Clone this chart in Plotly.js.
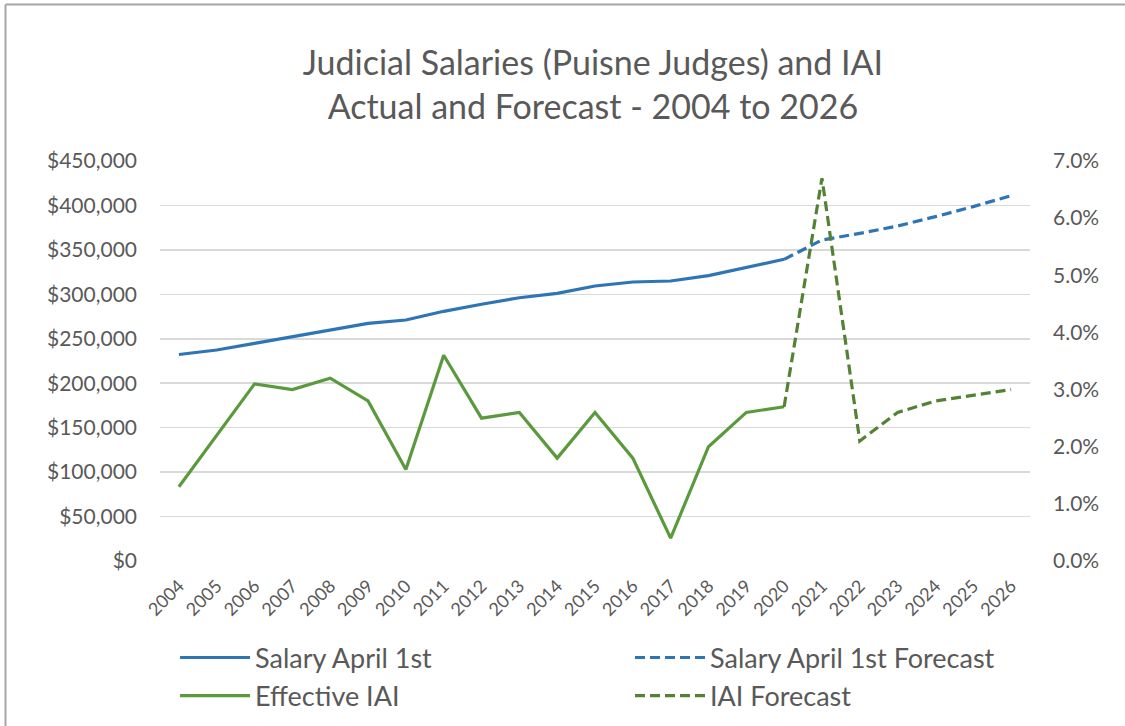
<!DOCTYPE html>
<html>
<head>
<meta charset="utf-8">
<script src="https://cdn.plot.ly/plotly-3.0.1.min.js"></script>
<style>html,body{margin:0;padding:0;background:#fff;}#chart{width:1125px;height:726px;}</style>
</head>
<body>
<div id="chart"></div>
<script>
const years = ["2004","2005","2006","2007","2008","2009","2010","2011","2012","2013","2014","2015","2016","2017","2018","2019","2020","2021","2022","2023","2024","2025","2026"];
const salaryYears = years.slice(0, 17);
const salaryActual = [232300,237400,244900,252400,260600,267400,271100,280900,288800,296200,301100,309400,313900,315000,321000,330000,339400];
const forecastYears = years.slice(16);
const salaryForecast = [339400,361100,368600,376900,387400,398700,411000];
const iaiActual = [1.3,2.2,3.1,3.0,3.2,2.8,1.6,3.6,2.5,2.6,1.8,2.6,1.8,0.4,2.0,2.6,2.7];
const iaiForecast = [2.7,6.7,2.1,2.6,2.8,2.9,3.0];
const salaryTicks = [0,50000,100000,150000,200000,250000,300000,350000,400000,450000];
const salaryTickText = ["$0","$50,000","$100,000","$150,000","$200,000","$250,000","$300,000","$350,000","$400,000","$450,000"];
const pctTicks = [0,1,2,3,4,5,6,7];
const pctTickText = ["0.0%","1.0%","2.0%","3.0%","4.0%","5.0%","6.0%","7.0%"];

const FONT = "Lato, 'Open Sans', sans-serif";
const GREY = "#595959";
const BLUE = "#2E75B6";
const GREEN = "#5B9A3C";
const DGREEN = "#548235";

const traces = [
  {x: salaryYears, y: salaryActual, name: "Salary April 1st", type: "scatter", mode: "lines",
   line: {color: BLUE, width: 3.2}, legend: "legend"},
  {x: forecastYears, y: salaryForecast, name: "Salary April 1st Forecast", type: "scatter", mode: "lines",
   line: {color: BLUE, width: 3.2, dash: "10px,5px"}, legend: "legend2"},
  {x: salaryYears, y: iaiActual, name: "Effective IAI", type: "scatter", mode: "lines", yaxis: "y2",
   line: {color: GREEN, width: 3.2}, legend: "legend3"},
  {x: forecastYears, y: iaiForecast, name: "IAI Forecast", type: "scatter", mode: "lines", yaxis: "y2",
   line: {color: DGREEN, width: 3.2, dash: "10px,5px"}, legend: "legend4"}
];

function leg(x, y) {
  return {orientation: "h", xref: "container", yref: "container", xanchor: "left", yanchor: "middle",
    x: x, y: y, font: {family: FONT, size: 27, color: GREY}, itemwidth: 70,
    bgcolor: "rgba(0,0,0,0)", borderwidth: 0};
}

const layout = {
  width: 1125, height: 726,
  margin: {l: 160, r: 95, t: 161, b: 165, autoexpand: false},
  paper_bgcolor: "#fff", plot_bgcolor: "#fff",
  font: {family: FONT, color: GREY},
  title: {text: "Judicial Salaries (Puisne Judges) and IAI<br>Actual and Forecast - 2004 to 2026",
    font: {family: FONT, size: 34, color: GREY}, x: 0.527, xanchor: "center",
    yref: "container", y: 0.897, yanchor: "top"},
  showlegend: true,
  legend: leg(0.1556, 0.0937),
  legend2: leg(0.5600, 0.0937),
  legend3: leg(0.1556, 0.0413),
  legend4: leg(0.5600, 0.0413),
  xaxis: {type: "category", categoryorder: "array", categoryarray: years, range: [-0.5, 22.5],
    tickangle: -45, tickfont: {family: FONT, size: 18, color: GREY}, showgrid: false,
    showline: false, ticks: "", zeroline: false, fixedrange: true, automargin: false, ticklabelstandoff: 10},
  yaxis: {range: [0, 450000], tickvals: salaryTicks, ticktext: salaryTickText,
    tickfont: {family: FONT, size: 21, color: GREY}, gridcolor: "#D9D9D9", gridwidth: 1.5,
    zeroline: false, showline: false, ticks: "", ticklabelstandoff: 22, fixedrange: true, automargin: false},
  yaxis2: {overlaying: "y", side: "right", range: [0, 7], tickvals: pctTicks, ticktext: pctTickText,
    tickfont: {family: FONT, size: 21, color: GREY}, showgrid: false, zeroline: false,
    showline: false, ticks: "", ticklabelstandoff: 22, fixedrange: true, automargin: false},
  shapes: [
    {type: "line", xref: "paper", yref: "paper", x0: -0.1776, x1: 1.2, y0: 1.391, y1: 1.391,
     line: {color: "#A6A6A6", width: 2}},
    {type: "line", xref: "paper", yref: "paper", x0: -0.1776, x1: -0.1776, y0: 1.391, y1: -0.5,
     line: {color: "#A6A6A6", width: 2}}
  ]
};

Plotly.newPlot("chart", traces, layout, {displayModeBar: false, staticPlot: true});
</script>
</body>
</html>
